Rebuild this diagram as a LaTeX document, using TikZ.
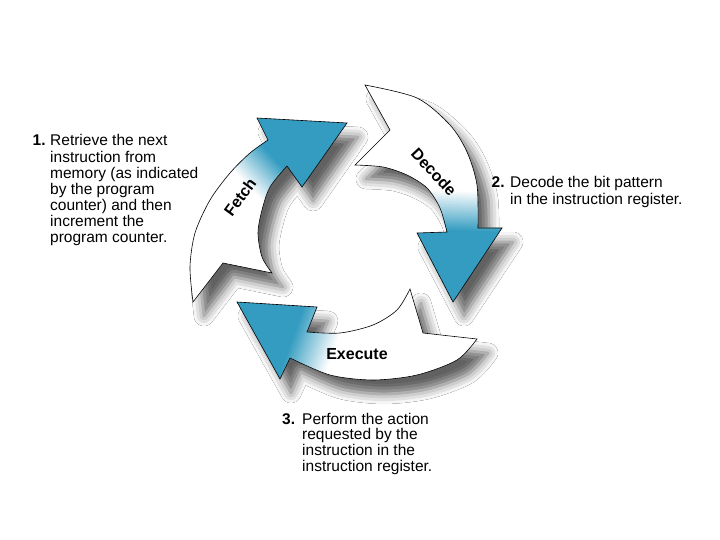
\documentclass[tikz,border=0pt]{standalone}
\usepackage{fontspec}
\setmainfont{Liberation Sans}
\usetikzlibrary{shadows.blur}
\definecolor{arrowteal}{RGB}{52,156,192}
\def\fetchpath{(193,302) -- plot[smooth] coordinates {(193,302)(190,267)(195,233)(210,200)(230,173)(250,153)(268,140)} -- (257,118) -- (347,123) -- (302,187) -- (287,166) -- plot[smooth] coordinates {(287,166)(270,187)(262,210)(258,233)(262,257)(272,273)} -- (223,263) -- cycle}
\def\decodepath{(365,85) -- plot[smooth] coordinates {(365,85)(417,98)(450,125)(467,152)(477,185)(478,228)} -- (502,228) -- (453,302) -- (417,233) -- (447,232) -- plot[smooth] coordinates {(447,232)(440,208)(427,188)(407,175)(383,167)(355,165)} -- (390,130) -- cycle}
\def\executepath{(477,339) -- plot[smooth] coordinates {(477,339)(457,360)(417,375)(373,380)(330,375)(290,358)} -- (280,379) -- (237,302) -- (317,307) -- (307,332) -- plot[smooth] coordinates {(307,332)(340,333)(373,325)(397,310)(410,289)} -- (423,333) -- cycle}
\newcommand{\gradfill}[5]{% path, x, y, angle, length
  \begin{scope}
    \clip #1;
    \fill[white] (0,0) rectangle (720,540);
    \begin{scope}[shift={(#2,#3)}, rotate=#4]
      \foreach \k [evaluate=\k as \p using int(4*\k)] in {0,...,25}
        \fill[arrowteal!\p!white] ({\k*#5/26},-400) rectangle ({(\k+1)*#5/26+0.6},400);
      \fill[arrowteal] (#5,-400) rectangle (700,400);
    \end{scope}
  \end{scope}
  \draw[arrowline] #1;
}
\begin{document}
\begin{tikzpicture}[x=1pt,y=-1pt,
  arrowline/.style={draw=black, line width=0.6pt, line join=miter},
  shadowstyle/.style={blur shadow={shadow xshift=11pt, shadow yshift=-14pt, shadow blur radius=10pt, shadow opacity=62}},
  body/.style={anchor=base west, inner sep=0pt},
  num/.style={font=\fontsize{15.5}{16}\selectfont\bfseries, anchor=base west, inner sep=0pt},
  lab/.style={font=\fontsize{16}{18}\selectfont\bfseries, inner sep=0pt}]
\useasboundingbox[fill=white] (0,0) rectangle (720,540);
% shadows
\path[shadowstyle] \fetchpath;
\path[shadowstyle] \decodepath;
\path[shadowstyle] \executepath;
% arrows
\gradfill{\fetchpath}{243}{182}{43}{40}
\gradfill{\decodepath}{460}{190}{-92}{42}
\gradfill{\executepath}{335}{350}{160}{45}
% labels
\node[lab, rotate=54] (fetchlab) at (240,197) {Fetch};
\node[lab, rotate=-47] (decodelab) at (434,172) {Decode};
\node[lab] (execlab) at (357,354) {Execute};
% texts
\node[num] (n1) at (32.5,146) {1.};
\node[body, font=\fontsize{15.5}{16}\selectfont] (t1) at (50,146) {\begin{tabular}[t]{@{}l@{}}Retrieve the next\\instruction from\\memory (as indicated\\by the program\\counter) and then\\increment the\\program counter.\end{tabular}};
\node[num] (n2) at (491.5,188) {2.};
\node[body, font=\fontsize{15.5}{17}\selectfont] (t2) at (510,188) {\begin{tabular}[t]{@{}l@{}}Decode the bit pattern\\in the instruction register.\end{tabular}};
\node[num] (n3) at (282,424) {3.};
\node[body, font=\fontsize{15.5}{15.5}\selectfont] (t3) at (302,424) {\begin{tabular}[t]{@{}l@{}}Perform the action\\requested by the\\instruction in the\\instruction register.\end{tabular}};
\end{tikzpicture}
\end{document}
